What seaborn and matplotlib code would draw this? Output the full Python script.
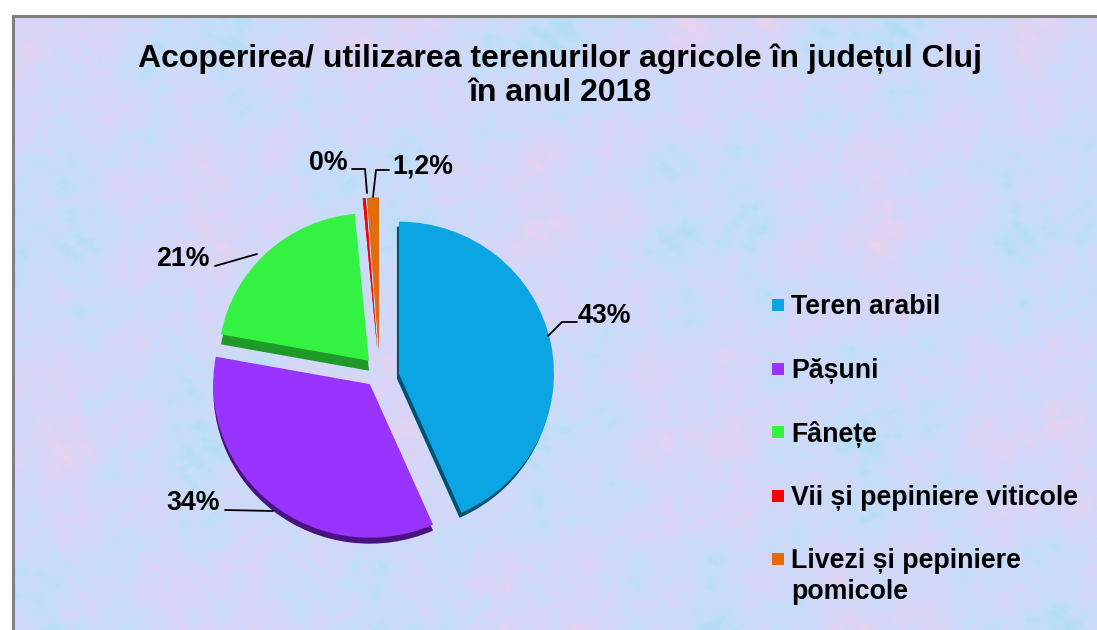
import numpy as np
import matplotlib
matplotlib.use("Agg")
import matplotlib.pyplot as plt
from matplotlib.colors import LinearSegmentedColormap
import seaborn as sns

# Data
categories = ["Teren arabil", "Pășuni", "Fânețe", "Vii și pepiniere viticole", "Livezi și pepiniere\npomicole"]
values = [43.3, 34.4, 20.6, 0.3, 1.2]
pct_labels = ["43%", "34%", "21%", "0%", "1,2%"]
explode = [0.138, 0.085, 0.11, 0.2, 0.2]
title = "Acoperirea/ utilizarea terenurilor agricole în județul Cluj\nîn anul 2018"

colors = ["#0BA5E3", "#9933FF", "#33F241", "#FF0000", "#E36C0A"]
dark_colors = ["#00506E", "#4A1480", "#1F9A28", "#A00000", "#A04A05"]

sns.set_theme(style="white")
plt.rcParams["font.family"] = ["Liberation Sans", "DejaVu Sans"]
plt.rcParams["font.weight"] = "bold"

W, H = 1097, 630
fig = plt.figure(figsize=(W / 100, H / 100), dpi=100, facecolor="white")

# Textured chart background, pale blue/lilac/pink blotches
bg = fig.add_axes([13 / W, 0, (W - 13) / W, (H - 16) / H], zorder=0)
yy, xx = np.mgrid[0:H - 16, 0:W - 13]
tex = (0.7 * np.sin(xx / 53 + 1.0) * np.cos(yy / 67)
       + 0.5 * np.sin(xx / 21 + yy / 29) * np.sin(yy / 23 - xx / 37)
       + 0.4 * np.sin(xx / 8.3 + 2 * np.cos(yy / 17)) * np.cos(yy / 7.1 + 2 * np.sin(xx / 19))
       + 0.2 * np.sin(xx / 3.7 + 3 * np.sin(yy / 9)) * np.sin(yy / 3.1 + 3 * np.cos(xx / 11)))
tex = (tex - tex.min()) / (tex.max() - tex.min())
cmap = LinearSegmentedColormap.from_list("paper", ["#B0DDF5", "#C4DEF8", "#D0D9F8", "#DAD5F6", "#EAD3F1"])
bg.imshow(tex, cmap=cmap, aspect="auto", interpolation="bilinear")
bg.set_xticks([])
bg.set_yticks([])
for side in ["right", "bottom"]:
    bg.spines[side].set_visible(False)
for side in ["left", "top"]:
    bg.spines[side].set_color("#808080")
    bg.spines[side].set_linewidth(2.2)

# Pie, slightly flattened; base centre at about (378, 378) px
cx, cy, rx, ry = 378, 378, 155, 152
ax = fig.add_axes([(cx - rx * 1.5) / W, 1 - (cy + ry * 1.5) / H, rx * 3 / W, ry * 3 / H], zorder=1)
flat = {"linewidth": 0}
shadow, _ = ax.pie(values, explode=explode, colors=sns.color_palette(dark_colors), startangle=90,
                   counterclock=False, radius=1, wedgeprops=flat)
tops, _ = ax.pie(values, explode=explode, colors=sns.color_palette(colors), startangle=90,
                 counterclock=False, radius=1, wedgeprops=flat)

# small nudges (px) and radius scale, the original has a 3D perspective
nudges = [(0, 0), (0, -4), (2.5, -5), (2, 2), (2, 2)]
scales = [1, 1.01, 0.97, 1, 1]
depths = [(-2, 5), (0, 6), (0, 10), (0, 0), (0, 0)]
for s, t, n, k, d in zip(shadow, tops, nudges, scales, depths):
    tx, ty = t.center[0] + n[0] / rx, t.center[1] - n[1] / ry
    t.set_center((tx, ty))
    t.set_radius(k)
    s.set_center((tx + d[0] / rx, ty - d[1] / ry))
    s.set_radius(k)
ax.set_aspect("auto")
ax.set_xlim(-1.5, 1.5)
ax.set_ylim(-1.5, 1.5)
ax.axis("off")

# Overlay in pixel coordinates for title, labels and legend
ov = fig.add_axes([0, 0, 1, 1], zorder=2)
ov.set_xlim(0, W)
ov.set_ylim(H, 0)
ov.axis("off")

ov.text(560, 75.5, title, ha="center", va="center", fontsize=23, fontweight="bold",
        color="black", linespacing=1.18)

label_pos = [(604, 316), (193, 503), (183, 259), (328, 163), (423, 167)]
leaders = [
    [(548, 336), (562, 322), (577, 322)],
    [(225, 510), (273, 511)],
    [(215, 266), (257, 254)],
    [(352, 169), (365, 169), (367, 193)],
    [(389, 170), (376, 170), (373, 197)],
]
for txt, pos, line in zip(pct_labels, label_pos, leaders):
    ov.text(pos[0], pos[1], txt, ha="center", va="center", fontsize=19.3, fontweight="bold", color="black")
    ov.plot([p[0] for p in line], [p[1] for p in line], color="black", lw=1.3)

legend_y = [305, 369, 432, 496, 559]
for name, col, y in zip(categories, colors, legend_y):
    ov.scatter([778], [y], marker="s", s=75, color=col, linewidths=0)
    ov.text(791, y - 11, name, ha="left", va="top", fontsize=19.3, fontweight="bold", color="black",
            linespacing=1.25)

fig.savefig("out.png", dpi=100)
